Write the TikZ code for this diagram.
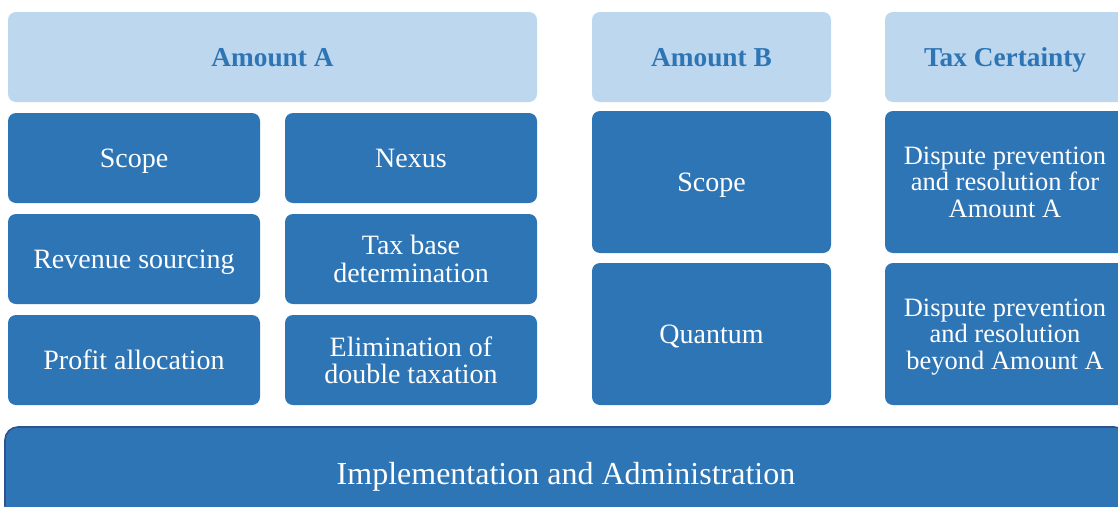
\documentclass[tikz,border=0pt]{standalone}
\usepackage{fontspec}
\setmainfont{Liberation Serif}
\definecolor{boxblue}{HTML}{2E75B6}
\definecolor{headblue}{HTML}{BDD7EE}
\definecolor{rimblue}{HTML}{2F528F}
\tikzset{
  cell/.style={rectangle, rounded corners=8pt, fill=boxblue, text=white,
    align=center, inner sep=0pt, text depth=0pt,
    font=\fontsize{28}{27.5}\selectfont},
  smallcell/.style={cell, font=\fontsize{26.5}{26.5}\selectfont},
  head/.style={rectangle, rounded corners=8pt, fill=headblue, text=boxblue,
    align=center, inner sep=0pt, text depth=0pt,
    font=\fontsize{27.3}{27.5}\selectfont\bfseries},
  base/.style={rectangle, rounded corners=13pt, fill=boxblue, draw=rimblue,
    line width=1.6pt, text=white, inner sep=0pt, text depth=0pt,
    font=\fontsize{32}{33}\selectfont},
}
\begin{document}
\begin{tikzpicture}[x=1pt, y=-1pt]
\useasboundingbox (0,0) rectangle (1118,506);
\clip (0,0) rectangle (1118,506);

% Amount A column
\node[head, minimum width=529, minimum height=90] (hA) at (272.5,57) {Amount A};
\node[cell, minimum width=252, minimum height=90] (scopeA) at (134,158) {Scope};
\node[cell, minimum width=252, minimum height=90] (nexus) at (411,158) {Nexus};
\node[cell, minimum width=252, minimum height=90] (revenue) at (134,259) {Revenue sourcing};
\node[cell, minimum width=252, minimum height=90] (taxbase) at (411,259) {Tax base\\determination};
\node[cell, minimum width=252, minimum height=90] (profit) at (134,360) {Profit allocation};
\node[cell, minimum width=252, minimum height=90] (elim) at (411,360) {Elimination of\\double taxation};

% Amount B column
\node[head, minimum width=239, minimum height=90] (hB) at (711.5,57) {Amount B};
\node[cell, minimum width=239, minimum height=142] (scopeB) at (711.5,182) {Scope};
\node[cell, minimum width=239, minimum height=142] (quantum) at (711.5,334) {Quantum};

% Tax certainty column
\node[head, minimum width=240, minimum height=90] (hC) at (1005,57) {Tax Certainty};
\node[smallcell, minimum width=240, minimum height=142] (dprA) at (1005,182) {Dispute prevention\\and resolution for\\Amount A};
\node[smallcell, minimum width=240, minimum height=142] (dprB) at (1005,334) {Dispute prevention\\and resolution\\beyond Amount A};

% Base layer
\node[base, minimum width=1122, minimum height=92] (impl) at (566,473) {Implementation and Administration};
\end{tikzpicture}
\end{document}
